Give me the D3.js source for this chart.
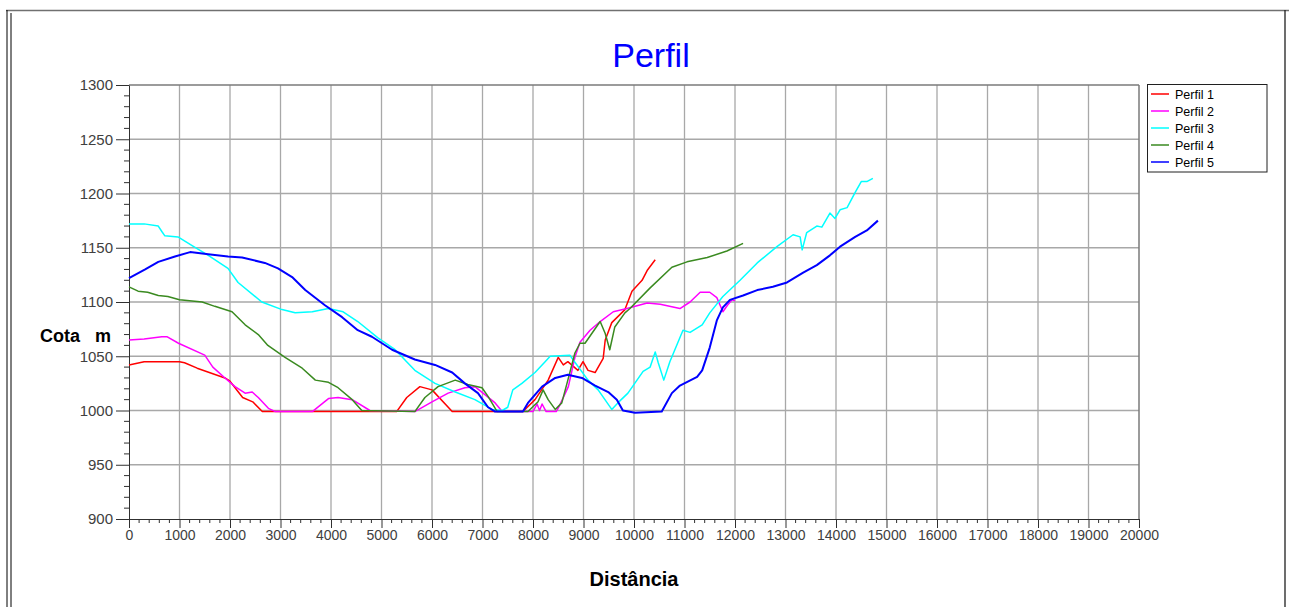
<!DOCTYPE html>
<html>
<head>
<meta charset="utf-8">
<script src="https://cdn.jsdelivr.net/npm/d3@7"></script>
<style>
  body { margin: 0; background: #fff; }
  svg { display: block; font-family: "Liberation Sans", Arial, sans-serif; }
  .grid line { stroke: #a8a8a8; stroke-width: 1.3px; }
  .axis path, .axis line { stroke: #303030; }
  .axis text { fill: #404040; font-size: 14px; }
</style>
</head>
<body>
<div id="chart"></div>
<script>
var seriesNames = ["Perfil 1","Perfil 2","Perfil 3","Perfil 4","Perfil 5"];
var seriesColors = ["#ff0000","#ff00ff","#00ffff","#3a8a20","#0000ff"];
var xTicks = d3.range(0, 20001, 1000);
var yTicks = d3.range(900, 1301, 50);

// distancia, cota
var perfil1 = [[0,1042],[300,1045],[1000,1045],[1100,1044],[1350,1039],[1900,1030],[2000,1027],[2250,1012],[2450,1008],[2640,999],
  [5300,999],[5500,1012],[5760,1022],[6000,1019],[6400,999],[7800,999],[8040,1010],[8300,1028],[8500,1049],[8600,1042],[8690,1045],
  [8890,1037],[8990,1045],[9090,1037],[9230,1035],[9390,1048],[9430,1065],[9560,1081],[9820,1093],[9960,1110],[10160,1120],[10260,1129],[10420,1139]];
var perfil2 = [[0,1065],[300,1066],[650,1068],[750,1068],[980,1062],[1500,1051],[1660,1040],[1900,1030],[2100,1022],[2300,1016],[2440,1017],
  [2560,1012],[2760,1002],[2900,999],[3630,999],[3950,1011],[4140,1012],[4420,1010],[4770,1000],[5660,999],[6000,1008],[6320,1016],
  [6650,1021],[6850,1022],[7010,1016],[7250,1007],[7390,999],[8000,999],[8080,1006],[8130,1000],[8180,1006],[8260,999],[8460,999],
  [8530,1005],[8700,1022],[8830,1049],[8930,1063],[9130,1074],[9330,1082],[9590,1091],[9860,1094],[10260,1099],[10520,1098],[10910,1094],
  [11110,1100],[11310,1109],[11500,1109],[11640,1104],[11760,1091],[11850,1097],[11940,1102],[12000,1101]];
var perfil3 = [[0,1172],[300,1172],[580,1170],[650,1165],[710,1161],[970,1160],[1250,1152],[1570,1143],[1960,1131],[2160,1118],[2630,1100],
  [3030,1093],[3290,1090],[3630,1091],[3950,1094],[4240,1091],[4530,1082],[4930,1067],[5270,1056],[5660,1037],[6060,1025],[6460,1017],
  [6850,1010],[7190,1001],[7390,1000],[7500,1003],[7600,1019],[7780,1025],[8040,1035],[8240,1045],[8340,1050],[8730,1051],[8790,1047],
  [9090,1028],[9290,1019],[9560,1001],[9680,1007],[9880,1016],[10180,1036],[10320,1040],[10420,1054],[10480,1044],[10590,1028],[10710,1045],
  [10970,1074],[11110,1072],[11350,1079],[11500,1090],[11760,1105],[12100,1120],[12440,1136],[12830,1151],[13150,1162],[13290,1160],
  [13330,1148],[13420,1164],[13620,1170],[13720,1169],[13880,1182],[13980,1177],[14080,1185],[14220,1187],[14380,1201],[14500,1211],
  [14610,1211],[14730,1214]];
var perfil4 = [[0,1114],[180,1110],[370,1109],[580,1106],[770,1105],[1000,1102],[1450,1100],[1700,1096],[2040,1091],[2300,1079],[2560,1070],
  [2750,1060],[3090,1049],[3430,1039],[3690,1028],[3950,1026],[4140,1021],[4420,1010],[4610,1000],[5660,999],[5860,1012],[6120,1022],
  [6460,1028],[6710,1024],[6990,1021],[7110,1013],[7290,999],[7900,999],[8100,1008],[8200,1019],[8300,1010],[8440,1001],[8570,1007],
  [8690,1028],[8830,1053],[8930,1062],[9030,1062],[9330,1082],[9430,1071],[9520,1056],[9620,1077],[9820,1090],[9920,1094],[10320,1113],
  [10750,1132],[11050,1137],[11450,1141],[11840,1147],[12160,1154]];
var perfil5 = [[0,1122],[320,1130],[580,1137],[910,1142],[1210,1146],[1570,1144],[1960,1142],[2240,1141],[2690,1136],[2950,1131],[3230,1123],
  [3490,1111],[3880,1097],[4220,1086],[4530,1074],[4810,1068],[5210,1056],[5660,1047],[6060,1042],[6400,1035],[6650,1025],[6910,1016],
  [7110,1003],[7250,999],[7800,999],[7900,1007],[8180,1022],[8440,1030],[8690,1033],[8970,1030],[9230,1023],[9490,1017],[9660,1010],
  [9780,1000],[10020,998],[10550,999],[10750,1016],[10910,1023],[11250,1031],[11350,1037],[11500,1058],[11640,1083],[11760,1095],
  [11900,1102],[12160,1106],[12440,1111],[12750,1114],[13030,1118],[13350,1127],[13620,1134],[13880,1143],[14080,1151],[14380,1160],
  [14610,1166],[14830,1175]];
var perfis = [perfil1, perfil2, perfil3, perfil4, perfil5];

var W = 1289, H = 607;
var pLeft = 129, pRight = 1139, pTop = 85, pBottom = 519;

var x = d3.scaleLinear().domain([0,20000]).range([pLeft,pRight]);
var y = d3.scaleLinear().domain([900,1300]).range([pBottom,pTop]);

var svg = d3.select("#chart").append("svg")
  .attr("width",W)
  .attr("height",H);

// moldura externa
svg.append("line").attr("x1",6).attr("x2",W).attr("y1",10.5).attr("y2",10.5)
  .attr("stroke","#707070").attr("stroke-width",1.5);
svg.append("line").attr("x1",7).attr("x2",7).attr("y1",10).attr("y2",H)
  .attr("stroke","#000").attr("stroke-width",1);
svg.append("line").attr("x1",11).attr("x2",11).attr("y1",13).attr("y2",H)
  .attr("stroke","#000").attr("stroke-width",1);
svg.append("line").attr("x1",1285).attr("x2",1285).attr("y1",10).attr("y2",H)
  .attr("stroke","#202020").attr("stroke-width",1.3);

// grade
var grid = svg.append("g").classed("grid",true);
grid.selectAll("line.v").data(xTicks.slice(1,-1)).enter().append("line")
  .attr("x1",d=>x(d)).attr("x2",d=>x(d))
  .attr("y1",pTop).attr("y2",pBottom);
grid.selectAll("line.h").data(yTicks.slice(1,-1)).enter().append("line")
  .attr("x1",pLeft).attr("x2",pRight)
  .attr("y1",d=>y(d)).attr("y2",d=>y(d));

// moldura do grafico
svg.append("line").attr("x1",pLeft).attr("x2",pRight).attr("y1",pTop).attr("y2",pTop)
  .attr("stroke","#7a7a7a").attr("stroke-width",1.5);
svg.append("line").attr("x1",pRight).attr("x2",pRight).attr("y1",pTop).attr("y2",pBottom)
  .attr("stroke","#7a7a7a").attr("stroke-width",1.5);

// eixos com marcas menores
var xMinor = d3.range(0, 20001, 200).filter(d=>d%1000!==0);
var yMinor = d3.range(900, 1301, 10).filter(d=>d%50!==0);

svg.append("g").classed("axis",true)
  .selectAll("line").data(xMinor).enter().append("line")
  .attr("x1",d=>x(d)).attr("x2",d=>x(d))
  .attr("y1",pBottom).attr("y2",pBottom+4);
svg.append("g").classed("axis",true)
  .selectAll("line").data(yMinor).enter().append("line")
  .attr("x1",pLeft-5).attr("x2",pLeft)
  .attr("y1",d=>y(d)).attr("y2",d=>y(d));

var xAxis = svg.append("g").classed("axis",true)
  .attr("transform","translate(0,"+pBottom+")")
  .call(d3.axisBottom(x).tickValues(xTicks).tickSize(9).tickPadding(2).tickSizeOuter(0).tickFormat(d3.format("d")));
var yAxis = svg.append("g").classed("axis",true)
  .attr("transform","translate("+pLeft+",0)")
  .call(d3.axisLeft(y).tickValues(yTicks).tickSize(13).tickPadding(3).tickSizeOuter(0).tickFormat(d3.format("d")));
xAxis.selectAll("text").style("font-size","14px");
yAxis.selectAll("text").style("font-size","15px");

// series
var line = d3.line().x(d=>x(d[0])).y(d=>y(d[1]));
svg.append("g").selectAll("path").data(perfis).enter().append("path")
  .attr("d",line)
  .attr("fill","none")
  .attr("stroke",(d,i)=>seriesColors[i])
  .attr("stroke-width",(d,i)=>i===4 ? 2 : 1.5)
  .attr("stroke-linejoin","round");

// titulo
svg.append("text")
  .attr("x",651).attr("y",67)
  .attr("text-anchor","middle")
  .attr("fill","#0000ff")
  .style("font-size","34px")
  .text("Perfil");

svg.append("text")
  .attr("x",40).attr("y",342)
  .attr("fill","#000")
  .style("font-size","18px").style("font-weight","bold")
  .style("white-space","pre")
  .text("Cota   m");

svg.append("text")
  .attr("x",634).attr("y",586)
  .attr("text-anchor","middle")
  .attr("fill","#000")
  .style("font-size","20px").style("font-weight","bold")
  .text("Distância");

// legenda
var legend = svg.append("g");
legend.append("rect")
  .attr("x",1147.5).attr("y",84.5)
  .attr("width",119.5).attr("height",87.5)
  .attr("fill","#fff").attr("stroke","#202020");
var items = legend.selectAll("g").data(seriesNames).enter().append("g")
  .attr("transform",(d,i)=>"translate(0,"+(94+i*17)+")");
items.append("line")
  .attr("x1",1151).attr("x2",1169)
  .attr("stroke",(d,i)=>seriesColors[i]).attr("stroke-width",1.5);
items.append("text")
  .attr("x",1175).attr("y",4.5)
  .style("font-size","12.5px").attr("fill","#000")
  .text(d=>d);
</script>
</body>
</html>
